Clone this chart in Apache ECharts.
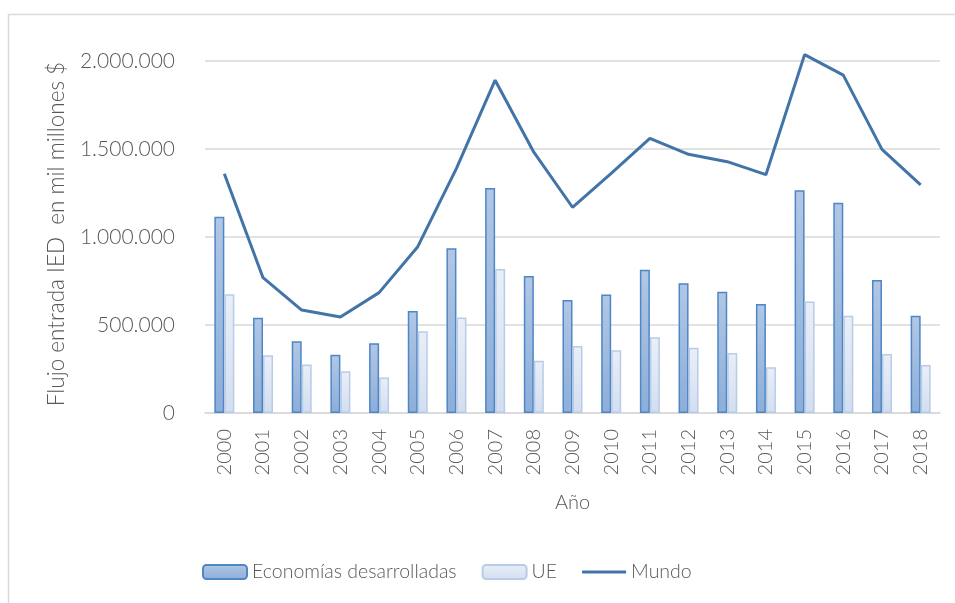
<!DOCTYPE html>
<html>
<head>
<meta charset="utf-8">
<script src="https://cdn.jsdelivr.net/npm/echarts@6/dist/echarts.min.js"></script>
<style>
  html, body { margin: 0; padding: 0; background: #fff; }
  #chart { width: 955px; height: 603px; }
</style>
</head>
<body>
<div id="chart"></div>
<script>
// años y valores (millones de $)
let years = ['2000', '2001', '2002', '2003', '2004', '2005', '2006', '2007', '2008', '2009',
             '2010', '2011', '2012', '2013', '2014', '2015', '2016', '2017', '2018'];
let economiasDesarrolladas = [1115000, 541000, 407000, 331000, 396000, 580000, 936000, 1278000, 778000, 642000,
                              674000, 814000, 737000, 689000, 619000, 1265000, 1195000, 756000, 553000];
let ue = [675000, 328000, 275000, 237000, 201000, 464000, 542000, 818000, 297000, 381000,
          356000, 430000, 371000, 341000, 260000, 633000, 553000, 335000, 273000];
let mundo = [1359000, 769000, 585000, 546000, 684000, 945000, 1390000, 1891000, 1482000, 1169000,
             1362000, 1561000, 1470000, 1428000, 1354000, 2036000, 1920000, 1498000, 1296000];

let chart = echarts.init(document.getElementById('chart'));

let txt = '#595959';
let grey = '#d9d9d9';
let font = 'Lato, "Open Sans", sans-serif';
let lineColor = '#4274a7';

let fmt = (v) => String(v).replace(/\B(?=(\d{3})+(?!\d))/g, '.');

let option = {
    animation: false,
    textStyle: { fontFamily: font },
    graphic: [
        {
            type: 'rect',
            shape: { x: 8.5, y: 14.5, width: 1000, height: 700 },
            style: { fill: 'none', stroke: grey, lineWidth: 1.5 },
            silent: true
        },
        {
            // título del eje Y
            type: 'text',
            x: 57,
            y: 234,
            rotation: Math.PI / 2,
            style: {
                text: 'Flujo entrada IED  en mil millones $',
                fill: txt,
                font: '300 22.5px ' + font,
                align: 'center',
                verticalAlign: 'middle'
            },
            silent: true
        }
    ],
    grid: { left: 205, right: 15, top: 61, bottom: 190, containLabel: false },
    legend: {
        left: 197,
        top: 557,
        itemWidth: 44,
        itemHeight: 14,
        itemGap: 25,
        textStyle: { color: txt, fontSize: 19.5, fontWeight: 300, fontFamily: font },
        data: [
            'Economías desarrolladas',
            'UE',
            { name: 'Mundo', icon: 'path://M0,0 L44,0 L44,3 L0,3 Z', itemStyle: { color: lineColor } }
        ]
    },
    xAxis: {
        type: 'category',
        data: years,
        name: 'Año',
        nameLocation: 'middle',
        nameGap: 80,
        nameMoveOverlap: false,
        nameTextStyle: { color: txt, fontSize: 20, fontWeight: 300, fontFamily: font },
        axisLine: { lineStyle: { color: grey, width: 1.5 } },
        axisTick: { show: false },
        axisLabel: { rotate: 90, margin: 16, color: txt, fontSize: 20, fontWeight: 300, fontFamily: font, interval: 0 }
    },
    yAxis: {
        type: 'value',
        min: 0,
        max: 2000000,
        interval: 500000,
        axisLine: { show: false },
        axisTick: { show: false },
        axisLabel: { margin: 30, color: txt, fontSize: 21, fontWeight: 300, fontFamily: font, formatter: fmt },
        splitLine: { lineStyle: { color: grey, width: 1.5 } }
    },
    series: [
        {
            name: 'Economías desarrolladas',
            type: 'bar',
            data: economiasDesarrolladas,
            barWidth: 10,
            barGap: '0%',
            itemStyle: {
                color: new echarts.graphic.LinearGradient(0, 0, 0, 1, [
                    { offset: 0, color: '#b1c7e5' },
                    { offset: 1, color: '#8caed9' }
                ]),
                borderColor: '#4f86c5',
                borderWidth: 1.5
            }
        },
        {
            name: 'UE',
            type: 'bar',
            data: ue,
            barWidth: 10,
            itemStyle: {
                color: new echarts.graphic.LinearGradient(0, 0, 0, 1, [
                    { offset: 0, color: '#e9eff8' },
                    { offset: 1, color: '#d2def0' }
                ]),
                borderColor: '#b8cce8',
                borderWidth: 1.5
            }
        },
        {
            name: 'Mundo',
            type: 'line',
            data: mundo,
            symbol: 'none',
            clip: false,
            lineStyle: { color: lineColor, width: 3 },
            itemStyle: { color: lineColor },
            z: 5
        }
    ]
};

chart.setOption(option);
</script>
</body>
</html>
